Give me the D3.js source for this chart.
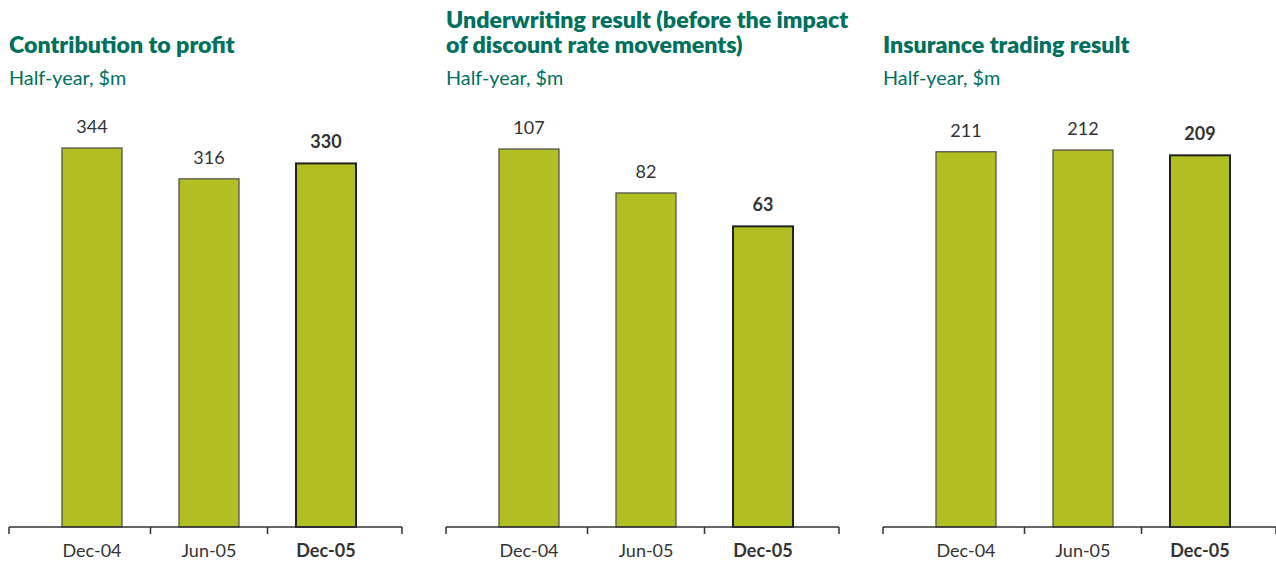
<!DOCTYPE html>
<html>
<head>
<meta charset="utf-8">
<script src="https://cdn.jsdelivr.net/npm/d3@7"></script>
<style>
  html, body { margin: 0; padding: 0; background: #ffffff; }
  svg { display: block; font-family: Lato, "Open Sans", sans-serif; }
</style>
</head>
<body>
<svg id="chart" width="1276" height="562"></svg>
<script>
// Half-year periods shown in every panel; the latest one is emphasised
const categories = ["Dec-04", "Jun-05", "Dec-05"];
const highlight = "Dec-05";

// Panel titles (one entry per line) and the shared subtitle
const titles = [
  ["Contribution to profit"],
  ["Underwriting result (before the impact", "of discount rate movements)"],
  ["Insurance trading result"]
];
const subtitle = "Half-year, $m";

// Values, $m
const contribution = [344, 316, 330];
const underwriting = [107, 82, 63];
const tradingResult = [211, 212, 209];

// Lower end of each panel's value axis
const axisFloor = [0, -108, 0];

const panelsData = [contribution, underwriting, tradingResult];

const svg = d3.select("#chart");
const teal = "#00705e";
const barFill = "#b1bf22";
const textColor = "#333333";

const panelLeft = [9, 446, 883];
const panelWidth = 393;
const baseline = 527;
// pixel row reached by each panel's tallest bar
const plotTop = [148, 149, 150];

panelsData.forEach((values, i) => {
  const g = svg.append("g").attr("transform", `translate(${panelLeft[i]},0)`);

  // Titles
  const tLines = titles[i];
  const firstBase = 53 - (tLines.length - 1) * 25;
  tLines.forEach((line, k) => {
    g.append("text")
      .attr("x", 0)
      .attr("y", firstBase + k * 25)
      .attr("fill", teal)
      .attr("font-size", 23.2)
      .attr("font-weight", 800)
      .text(line);
  });
  g.append("text")
    .attr("x", 0)
    .attr("y", 85)
    .attr("fill", teal)
    .attr("font-size", 19.8)
    .text(subtitle);

  // Scales
  const x = d3.scaleBand()
    .domain(categories)
    .range([24.5, 375.5])
    .paddingInner(0.487)
    .paddingOuter(0.2435);

  const maxV = d3.max(values);
  const y = d3.scaleLinear()
    .domain([axisFloor[i], maxV])
    .range([baseline, plotTop[i]]);

  const rows = categories.map((c, j) => ({ cat: c, value: values[j] }));

  // Bars
  g.selectAll("rect.bar")
    .data(rows)
    .join("rect")
    .attr("class", "bar")
    .attr("x", d => x(d.cat))
    .attr("width", x.bandwidth())
    .attr("y", d => y(d.value))
    .attr("height", d => y(axisFloor[i]) - y(d.value))
    .attr("fill", barFill)
    .attr("stroke", d => d.cat === highlight ? "#222222" : "#4a4a4a")
    .attr("stroke-width", d => d.cat === highlight ? 2 : 1.2);

  // Value labels
  g.selectAll("text.val")
    .data(rows)
    .join("text")
    .attr("class", "val")
    .attr("x", d => x(d.cat) + x.bandwidth() / 2)
    .attr("y", d => y(d.value) - 15)
    .attr("text-anchor", "middle")
    .attr("fill", textColor)
    .attr("font-size", 18)
    .attr("font-weight", d => d.cat === highlight ? 700 : 400)
    .text(d => d.value);

  // Category axis: baseline with ticks at the panel ends and between bands
  const step = x.step();
  const gap = step - x.bandwidth();
  const tickXs = [0]
    .concat(categories.slice(0, -1).map(c => x(c) + x.bandwidth() + gap / 2))
    .concat([panelWidth]);

  g.append("line")
    .attr("x1", 0).attr("x2", panelWidth)
    .attr("y1", baseline).attr("y2", baseline)
    .attr("stroke", "#333333")
    .attr("stroke-width", 1.5);

  g.selectAll("line.tick")
    .data(tickXs)
    .join("line")
    .attr("class", "tick")
    .attr("x1", d => d).attr("x2", d => d)
    .attr("y1", baseline).attr("y2", baseline + 7)
    .attr("stroke", "#333333")
    .attr("stroke-width", 1.5);

  g.selectAll("text.cat")
    .data(categories)
    .join("text")
    .attr("class", "cat")
    .attr("x", d => x(d) + x.bandwidth() / 2)
    .attr("y", 557)
    .attr("text-anchor", "middle")
    .attr("fill", textColor)
    .attr("font-size", 18)
    .attr("font-weight", d => d === highlight ? 700 : 400)
    .text(d => d);
});
</script>
</body>
</html>
